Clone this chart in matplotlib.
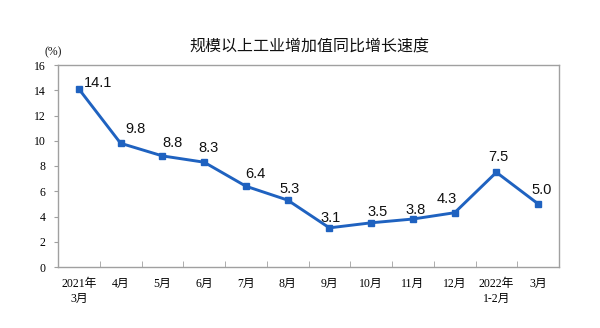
import matplotlib
matplotlib.use('Agg')
import matplotlib.pyplot as plt
import numpy as np

# data
months = ['2021年\n3月', '4月', '5月', '6月', '7月', '8月', '9月',
          '10月', '11月', '12月', '2022年\n1-2月', '3月']
growth = [14.1, 9.8, 8.8, 8.3, 6.4, 5.3, 3.1, 3.5, 3.8, 4.3, 7.5, 5.0]
yticks = [0, 2, 4, 6, 8, 10, 12, 14, 16]

# label offsets in pixels (dx, dy)
offs = [(19, 6), (15, 14), (10, 13), (4, 14), (9, 12), (2, 11),
        (1, 10), (6, 11), (3, 9), (-8, 14), (2, 15), (4, 14)]

serif = ['Liberation Serif', 'Noto Sans CJK SC']
sans = ['Liberation Sans', 'DejaVu Sans']
blue = '#1f62c0'
grey = '#a0a0a0'

fig = plt.figure(figsize=(6, 3.28), dpi=100)
ax = fig.add_axes([58 / 600, 61 / 328, 501 / 600, 202 / 328])

x = np.arange(len(months))
ax.plot(x, growth, color=blue, lw=2.1, marker='s', ms=4, zorder=3)

for i, v in enumerate(growth):
    ax.annotate(f'{v:.1f}', (x[i], v), xytext=offs[i], textcoords='offset pixels',
                ha='center', va='center', fontsize=10.5, family=sans, color='#111111')

ax.set_xlim(-0.5, len(months) - 0.5)
ax.set_ylim(0, 16)
ax.set_yticks(yticks)
ax.set_yticklabels([str(t) for t in yticks], family=serif, fontsize=8.5)
ax.set_xticks(x)
ax.set_xticklabels(months, family=serif, fontsize=8.5, linespacing=1.3)
ax.set_xticks(np.arange(0.5, len(months) - 1, 1), minor=True)
ax.tick_params(axis='x', which='major', length=0, pad=8)
ax.tick_params(axis='x', which='minor', direction='in', length=4, color=grey)
ax.tick_params(axis='y', direction='out', length=3, color=grey, pad=6)

for s in ax.spines.values():
    s.set_color(grey)
    s.set_linewidth(1.0)

fig.text(309 / 600, 1 - 47 / 328, '规模以上工业增加值同比增长速度', ha='center', va='center',
         fontsize=11.5, family=['Noto Sans CJK SC', 'DejaVu Sans'], color='#111111')
fig.text(53 / 600, 1 - 52 / 328, '(%)', ha='center', va='center',
         fontsize=8.5, family=serif, color='#111111')

fig.savefig('out.png', dpi=100)
